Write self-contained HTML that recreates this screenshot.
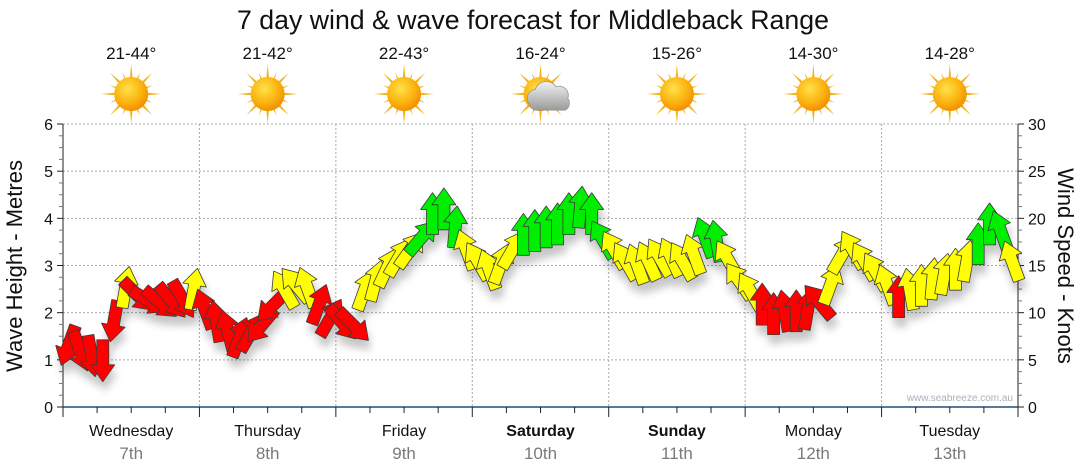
<!DOCTYPE html>
<html><head><meta charset="utf-8">
<style>
html,body{margin:0;padding:0;background:#fff;}
svg{display:block;font-family:"Liberation Sans",sans-serif;}
</style></head>
<body>
<svg id="chart" width="1080" height="475" viewBox="0 0 1080 475" xmlns="http://www.w3.org/2000/svg">
<defs>
<filter id="shadow" x="-50%" y="-50%" width="200%" height="200%">
<feDropShadow dx="2" dy="9" stdDeviation="4" flood-color="#000" flood-opacity="0.22"/>
</filter>
<radialGradient id="sunG" cx="0.4" cy="0.35" r="0.7">
<stop offset="0" stop-color="#ffe14a"/><stop offset="0.6" stop-color="#fbb20e"/><stop offset="1" stop-color="#ef8a00"/>
</radialGradient>
<linearGradient id="cloudG" x1="0" y1="0" x2="0" y2="1">
<stop offset="0" stop-color="#f2f2f2"/><stop offset="1" stop-color="#9a9a9a"/>
</linearGradient>
</defs>
<text x="533" y="29" font-size="26.7" text-anchor="middle" fill="#111">7 day wind &amp; wave forecast for Middleback Range</text>
<g id="topIcons"></g>
<g id="grid"></g>
<g id="axes"></g>
<text x="1013" y="401" font-size="10" text-anchor="end" fill="#a9b1bd">www.seabreeze.com.au</text>
<g id="arrows" filter="url(#shadow)"></g>
<text transform="translate(22,266) rotate(-90)" font-size="22" text-anchor="middle" fill="#111">Wave Height - Metres</text>
<text transform="translate(1058,266) rotate(90)" font-size="22" text-anchor="middle" fill="#111">Wind Speed - Knots</text>
</svg>
<script>
const dayNames = ["Wednesday","Thursday","Friday","Saturday","Sunday","Monday","Tuesday"];
const dayDates = ["7th","8th","9th","10th","11th","12th","13th"];
const boldDays = [false,false,false,true,true,false,false];
const tempRanges = ["21-44°","21-42°","22-43°","16-24°","15-26°","14-30°","14-28°"];
const cloudy = [false,false,false,true,false,false,false];
const waveTicks = [0,1,2,3,4,5,6];
const knotTicks = [0,5,10,15,20,25,30];
const hours = [];
for (let h = 1; h < 168; h += 2) hours.push(h);
const knots = [
6.6,6.0,5.5,5.0,9.2,12.6,11.9,11.3,11.1,11.3,11.5,12.4,
10.3,9.0,8.0,7.3,7.8,8.7,10.8,12.4,12.9,12.6,10.8,9.4,
9.0,8.7,12.3,13.3,14.7,15.8,16.6,17.9,20.4,20.9,19.0,16.6,
15.4,14.5,15.1,16.6,18.2,18.6,19.0,19.3,20.4,21.1,20.4,17.7,
16.6,15.4,15.1,15.4,15.8,15.8,15.4,16.1,17.9,17.5,15.6,13.3,
12.2,10.8,9.8,10.1,10.1,10.3,11.1,12.9,16.1,16.6,15.4,14.3,
12.9,11.6,12.4,12.8,13.5,14.0,14.5,15.4,17.2,19.3,18.6,15.4];
const dirs = [
200,160,170,180,190,10,135,120,130,140,150,10,
340,350,345,20,30,220,225,330,320,340,20,30,
140,135,20,15,25,30,35,40,0,0,5,340,
330,340,20,30,0,0,0,0,0,5,0,330,
330,330,340,335,330,335,330,340,340,350,330,325,
330,0,0,350,0,10,320,20,30,330,330,330,
340,0,350,0,5,10,0,10,0,0,340,340];

const NS="http://www.w3.org/2000/svg";
const X0=63, X1=1018, Y0=407, Y1=124;
const dayW=(X1-X0)/7;
const xH = h => X0 + h*dayW/24;
const yM = m => Y0 - m*(Y0-Y1)/6;
const yK = k => Y0 - k*(Y0-Y1)/30;
function mk(tag, attrs, parent){const e=document.createElementNS(NS,tag);for(const k in attrs)e.setAttribute(k,attrs[k]);parent.appendChild(e);return e;}
const grid=document.getElementById('grid'), axes=document.getElementById('axes'), topG=document.getElementById('topIcons'), arr=document.getElementById('arrows');

waveTicks.forEach(m=>{ if(m>0){const l=mk('line',{x1:X0,x2:X1,y1:yM(m),y2:yM(m),stroke:'#aaa','stroke-dasharray':'2,2'},grid);

}});
for(let d=1; d<7; d++){const l=mk('line',{x1:X0+d*dayW,x2:X0+d*dayW,y1:Y1,y2:Y0,stroke:'#aaa','stroke-dasharray':'2,2'},grid);

}

mk('line',{x1:X0,x2:X0,y1:Y1,y2:Y0,stroke:'#222'},axes);
for(let i=0;i<=24;i++){const y=yM(i/4);mk('line',{x1:X0-(i%4==0?6:4),x2:X0,y1:y,y2:y,stroke:i%4==0?'#222':'#777'},axes);}
waveTicks.forEach(m=>{const t=mk('text',{x:X0-10,y:yM(m)+6,'font-size':16,'text-anchor':'end',fill:'#111'},axes);t.textContent=m;

});
mk('line',{x1:X1,x2:X1,y1:Y1,y2:Y0,stroke:'#222'},axes);
for(let i=0;i<=24;i++){const y=yK(i*1.25);mk('line',{x1:X1,x2:X1+(i%4==0?6:4),y1:y,y2:y,stroke:i%4==0?'#222':'#777'},axes);}
knotTicks.forEach(k=>{const t=mk('text',{x:X1+10,y:yK(k)+6,'font-size':16,fill:'#111'},axes);t.textContent=k;

});
mk('line',{x1:X0,x2:X1,y1:Y0,y2:Y0,stroke:'#1d4f7a','stroke-width':1.5},axes);
for(let i=0;i<=28;i++){const x=X0+i*dayW/4;mk('line',{x1:x,x2:x,y1:Y0,y2:Y0+(i%4==0?10:6),stroke:'#222'},axes);}
dayNames.forEach((n,i)=>{
 const cx=X0+(i+0.5)*dayW;
 const t=mk('text',{x:cx,y:436,'font-size':16,'text-anchor':'middle',fill:'#111','font-weight':boldDays[i]?'bold':'normal'},axes);t.textContent=n;
 
 
 const t2=mk('text',{x:cx,y:459,'font-size':17,'text-anchor':'middle',fill:'#7a7a7a'},axes);t2.textContent=dayDates[i];
 
 
 const t3=mk('text',{x:cx,y:59,'font-size':17,'text-anchor':'middle',fill:'#111'},topG);t3.textContent=tempRanges[i];
 
 
 const g=mk('g',{transform:`translate(${cx},94)`},topG);
 
 
 for(let r=0;r<16;r++){const a=r*22.5, L=(r%2==0)?30:23;
  mk('polygon',{points:`-2.8,0 0,-${L} 2.8,0`,fill:'#f3b21b',transform:`rotate(${a})`},g);}
 mk('circle',{cx:0,cy:0,r:17,fill:'url(#sunG)'},g);
 if(cloudy[i]){mk('path',{d:'M-8,10 a7,7 0 0 1 4,-12 a9,9 0 0 1 16,-2 a7,7 0 0 1 9,9 a6,6 0 0 1 -2,9 h-23 a5,5 0 0 1 -4,-4z',fill:'url(#cloudG)',stroke:'#8a8a8a','stroke-width':0.5,transform:'translate(0,-2) scale(1.3)'},g);}
});

const arrowPts="0,-22 12,-5 6,-5 6,20 -6,20 -6,-5 -12,-5";
hours.forEach((h,i)=>{
 const k=knots[i];
 const col = k<12 ? '#ff0000' : (k<17 ? '#ffff00' : '#00ee00');
 const p=mk('polygon',{points:arrowPts,fill:col,stroke:'#3a3a3a','stroke-width':0.8,'stroke-linejoin':'bevel',
   transform:`translate(${xH(h).toFixed(1)},${yK(k).toFixed(1)}) rotate(${dirs[i]})`},arr);
 
 
});
</script>
</body></html>
